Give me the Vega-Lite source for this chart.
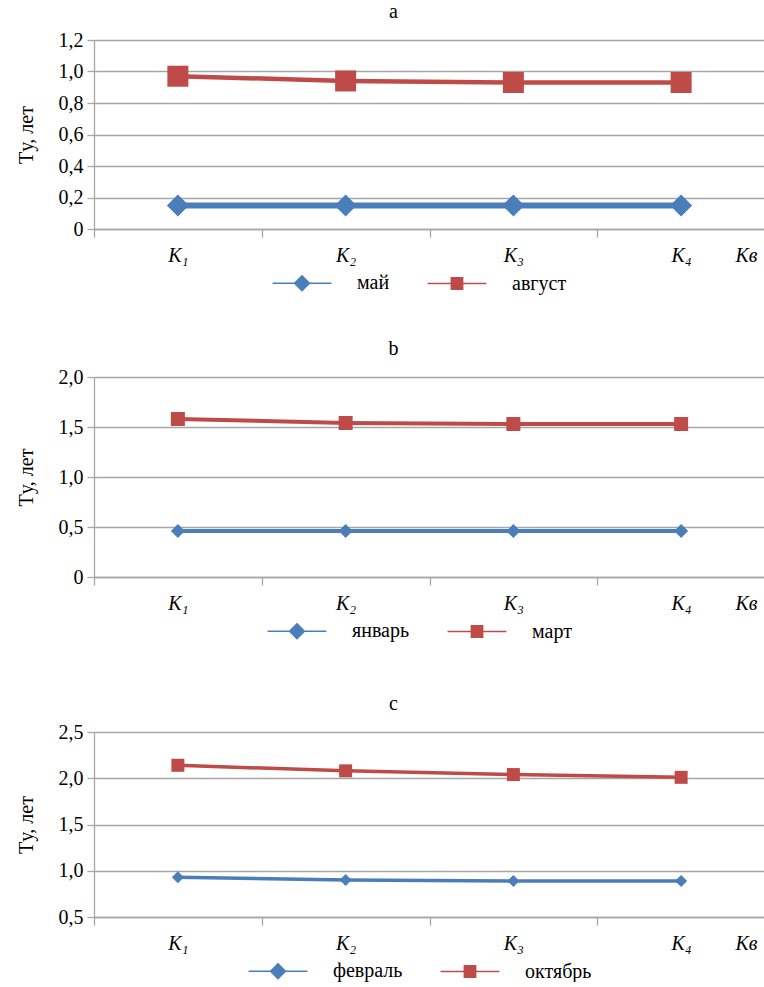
{
  "$schema": "https://vega.github.io/schema/vega-lite/v6.json",
  "padding": {"left": 16, "top": 2, "right": 0, "bottom": 0},
  "background": "white",
  "datasets": {
    "a": [
      {"K": "K₁", "month": "май", "T": 0.15},
      {"K": "K₂", "month": "май", "T": 0.15},
      {"K": "K₃", "month": "май", "T": 0.15},
      {"K": "K₄", "month": "май", "T": 0.15},
      {"K": "K₁", "month": "август", "T": 0.97},
      {"K": "K₂", "month": "август", "T": 0.94},
      {"K": "K₃", "month": "август", "T": 0.93},
      {"K": "K₄", "month": "август", "T": 0.93}
    ],
    "b": [
      {"K": "K₁", "month": "январь", "T": 0.46},
      {"K": "K₂", "month": "январь", "T": 0.46},
      {"K": "K₃", "month": "январь", "T": 0.46},
      {"K": "K₄", "month": "январь", "T": 0.46},
      {"K": "K₁", "month": "март", "T": 1.58},
      {"K": "K₂", "month": "март", "T": 1.54},
      {"K": "K₃", "month": "март", "T": 1.53},
      {"K": "K₄", "month": "март", "T": 1.53}
    ],
    "c": [
      {"K": "K₁", "month": "февраль", "T": 0.93},
      {"K": "K₂", "month": "февраль", "T": 0.90},
      {"K": "K₃", "month": "февраль", "T": 0.89},
      {"K": "K₄", "month": "февраль", "T": 0.89},
      {"K": "K₁", "month": "октябрь", "T": 2.14},
      {"K": "K₂", "month": "октябрь", "T": 2.08},
      {"K": "K₃", "month": "октябрь", "T": 2.04},
      {"K": "K₄", "month": "октябрь", "T": 2.01}
    ]
  },
  "spacing": 45,
  "resolve": {
    "scale": {"x": "independent", "y": "independent", "stroke": "independent"},
    "legend": {"stroke": "independent"}
  },
  "vconcat": [
    {
      "width": 671,
      "height": 189,
      "data": {"name": "a"},
      "title": {"text": "a", "dx": -36, "offset": 8},
      "encoding": {
        "x": {"field": "K", "type": "nominal", "bandPosition": 0.5,
          "scale": {"type": "band", "domain": ["K₁", "K₂", "K₃", "K₄"], "paddingInner": 0, "paddingOuter": 0},
          "axis": {"title": "Kв"}},
        "y": {"field": "T", "type": "quantitative",
          "scale": {"domain": [0, 1.2], "nice": false, "zero": false},
          "axis": {"title": "Tу, лет", "values": [0, 0.2, 0.4, 0.6, 0.8, 1.0, 1.2],
            "labelExpr": "datum.value == 0 ? '0' : replace(format(datum.value, '.1f'), '.', ',')"}}
      },
      "layer": [
        {
          "transform": [{"filter": "datum.month === 'май'"}],
          "mark": {"type": "line", "strokeWidth": 6},
          "encoding": {
            "stroke": {"field": "month", "type": "nominal", "scale": {"domain": ["май", "август"], "range": ["#4A7EBB", "#BE4B48"]},
              "legend": {"orient": "bottom", "direction": "horizontal", "title": null, "labelFont": "Liberation Serif", "labelFontSize": 20, "labelColor": "#000000",
                "symbolSize": 196, "labelOffset": 45, "columnPadding": 34, "offset": 8,
                "encode": {"symbols": {"update": {
                  "shape": {"signal": "datum.index === 0 ? 'M-4.2,0H4.2M0,-1.05L1.05,0L0,1.05L-1.05,0Z' : 'M-4.2,0H4.2M-0.8,-0.8H0.8V0.8H-0.8Z'"},
                  "size": {"value": 196},
                  "fill": {"signal": "datum.index === 0 ? '#4A7EBB' : '#BE4B48'"},
                  "stroke": {"signal": "datum.index === 0 ? '#4A7EBB' : '#BE4B48'"},
                  "strokeWidth": {"value": 1.6}, "fillOpacity": {"value": 1}, "strokeOpacity": {"value": 1}, "opacity": {"value": 1}}}}}}
          }
        },
        {
          "transform": [{"filter": "datum.month === 'август'"}],
          "mark": {"type": "line", "strokeWidth": 4.5},
          "encoding": {
            "stroke": {"field": "month", "type": "nominal", "scale": {"domain": ["май", "август"], "range": ["#4A7EBB", "#BE4B48"]},
              "legend": {"orient": "bottom", "direction": "horizontal", "title": null, "labelFont": "Liberation Serif", "labelFontSize": 20, "labelColor": "#000000",
                "symbolSize": 196, "labelOffset": 45, "columnPadding": 34, "offset": 8,
                "encode": {"symbols": {"update": {
                  "shape": {"signal": "datum.index === 0 ? 'M-4.2,0H4.2M0,-1.05L1.05,0L0,1.05L-1.05,0Z' : 'M-4.2,0H4.2M-0.8,-0.8H0.8V0.8H-0.8Z'"},
                  "size": {"value": 196},
                  "fill": {"signal": "datum.index === 0 ? '#4A7EBB' : '#BE4B48'"},
                  "stroke": {"signal": "datum.index === 0 ? '#4A7EBB' : '#BE4B48'"},
                  "strokeWidth": {"value": 1.6}, "fillOpacity": {"value": 1}, "strokeOpacity": {"value": 1}, "opacity": {"value": 1}}}}}}
          }
        },
        {
          "transform": [{"filter": "datum.month === 'май'"}],
          "mark": {"type": "point", "filled": true, "opacity": 1, "strokeWidth": 0, "shape": "diamond", "size": 484, "color": "#4A7EBB"}
        },
        {
          "transform": [{"filter": "datum.month === 'август'"}],
          "mark": {"type": "point", "filled": true, "opacity": 1, "strokeWidth": 0, "shape": "square", "size": 441, "color": "#BE4B48"}
        }
      ]
    },
    {
      "spacing": 52,
      "resolve": {
        "scale": {"x": "independent", "y": "independent", "stroke": "independent"},
        "legend": {"stroke": "independent"}
      },
      "vconcat": [
        {
          "width": 671,
          "height": 200,
          "data": {"name": "b"},
          "title": {"text": "b", "dx": -36, "offset": 8},
          "encoding": {
            "x": {"field": "K", "type": "nominal", "bandPosition": 0.5,
              "scale": {"type": "band", "domain": ["K₁", "K₂", "K₃", "K₄"], "paddingInner": 0, "paddingOuter": 0},
              "axis": {"title": "Kв"}},
            "y": {"field": "T", "type": "quantitative",
              "scale": {"domain": [0, 2.0], "nice": false, "zero": false},
              "axis": {"title": "Tу, лет", "values": [0, 0.5, 1.0, 1.5, 2.0],
                "labelExpr": "datum.value == 0 ? '0' : replace(format(datum.value, '.1f'), '.', ',')"}}
          },
          "layer": [
            {
              "mark": {"type": "line", "strokeWidth": 4},
              "encoding": {
                "stroke": {"field": "month", "type": "nominal", "scale": {"domain": ["январь", "март"], "range": ["#4A7EBB", "#BE4B48"]},
                  "legend": {"orient": "bottom", "direction": "horizontal", "title": null, "labelFont": "Liberation Serif", "labelFontSize": 20, "labelColor": "#000000",
                    "symbolSize": 196, "labelOffset": 45, "columnPadding": 34, "offset": 8,
                    "encode": {"symbols": {"update": {
                      "shape": {"signal": "datum.index === 0 ? 'M-4.2,0H4.2M0,-1.05L1.05,0L0,1.05L-1.05,0Z' : 'M-4.2,0H4.2M-0.8,-0.8H0.8V0.8H-0.8Z'"},
                      "size": {"value": 196},
                      "fill": {"signal": "datum.index === 0 ? '#4A7EBB' : '#BE4B48'"},
                      "stroke": {"signal": "datum.index === 0 ? '#4A7EBB' : '#BE4B48'"},
                      "strokeWidth": {"value": 1.6}, "fillOpacity": {"value": 1}, "strokeOpacity": {"value": 1}, "opacity": {"value": 1}}}}}}
              }
            },
            {
              "transform": [{"filter": "datum.month === 'январь'"}],
              "mark": {"type": "point", "filled": true, "opacity": 1, "strokeWidth": 0, "shape": "diamond", "size": 196, "color": "#4A7EBB"}
            },
            {
              "transform": [{"filter": "datum.month === 'март'"}],
              "mark": {"type": "point", "filled": true, "opacity": 1, "strokeWidth": 0, "shape": "square", "size": 196, "color": "#BE4B48"}
            }
          ]
        },
        {
          "width": 671,
          "height": 185,
          "data": {"name": "c"},
          "title": {"text": "c", "dx": -36, "offset": 8},
          "encoding": {
            "x": {"field": "K", "type": "nominal", "bandPosition": 0.5,
              "scale": {"type": "band", "domain": ["K₁", "K₂", "K₃", "K₄"], "paddingInner": 0, "paddingOuter": 0},
              "axis": {"title": "Kв"}},
            "y": {"field": "T", "type": "quantitative",
              "scale": {"domain": [0.5, 2.5], "nice": false, "zero": false},
              "axis": {"title": "Tу, лет", "values": [0.5, 1.0, 1.5, 2.0, 2.5],
                "labelExpr": "replace(format(datum.value, '.1f'), '.', ',')"}}
          },
          "layer": [
            {
              "mark": {"type": "line", "strokeWidth": 3.5},
              "encoding": {
                "stroke": {"field": "month", "type": "nominal", "scale": {"domain": ["февраль", "октябрь"], "range": ["#4A7EBB", "#BE4B48"]},
                  "legend": {"orient": "bottom", "direction": "horizontal", "title": null, "labelFont": "Liberation Serif", "labelFontSize": 20, "labelColor": "#000000",
                    "symbolSize": 196, "labelOffset": 45, "columnPadding": 34, "offset": 8,
                    "encode": {"symbols": {"update": {
                      "shape": {"signal": "datum.index === 0 ? 'M-4.2,0H4.2M0,-1.05L1.05,0L0,1.05L-1.05,0Z' : 'M-4.2,0H4.2M-0.8,-0.8H0.8V0.8H-0.8Z'"},
                      "size": {"value": 196},
                      "fill": {"signal": "datum.index === 0 ? '#4A7EBB' : '#BE4B48'"},
                      "stroke": {"signal": "datum.index === 0 ? '#4A7EBB' : '#BE4B48'"},
                      "strokeWidth": {"value": 1.6}, "fillOpacity": {"value": 1}, "strokeOpacity": {"value": 1}, "opacity": {"value": 1}}}}}}
              }
            },
            {
              "transform": [{"filter": "datum.month === 'февраль'"}],
              "mark": {"type": "point", "filled": true, "opacity": 1, "strokeWidth": 0, "shape": "diamond", "size": 144, "color": "#4A7EBB"}
            },
            {
              "transform": [{"filter": "datum.month === 'октябрь'"}],
              "mark": {"type": "point", "filled": true, "opacity": 1, "strokeWidth": 0, "shape": "square", "size": 169, "color": "#BE4B48"}
            }
          ]
        }
      ]
    }
  ],
  "config": {
    "font": "Liberation Serif",
    "view": {"stroke": null},
    "title": {"font": "Liberation Serif", "fontSize": 20, "fontWeight": "normal", "color": "#000000", "anchor": "middle"},
    "legend": {"layout": {"bottom": {"anchor": "middle"}}},
    "axis": {
      "labelFont": "Liberation Serif", "titleFont": "Liberation Serif",
      "labelFontSize": 20, "titleFontSize": 20, "labelColor": "#000000", "titleColor": "#000000",
      "titleFontWeight": "normal", "domainColor": "#A6A6A6", "tickColor": "#A6A6A6", "gridColor": "#A6A6A6",
      "domainWidth": 1.3, "tickWidth": 1.3, "gridWidth": 1.3
    },
    "axisX": {
      "grid": false, "tickBand": "extent", "tickSize": 8, "labelPadding": 8, "labelAngle": 0,
      "labelFontStyle": "italic", "titleFontStyle": "italic",
      "titleX": 652, "titleY": 16, "titleBaseline": "top", "titleAlign": "center"
    },
    "axisY": {"grid": true, "tickSize": 7, "labelPadding": 4, "titlePadding": 22}
  }
}
